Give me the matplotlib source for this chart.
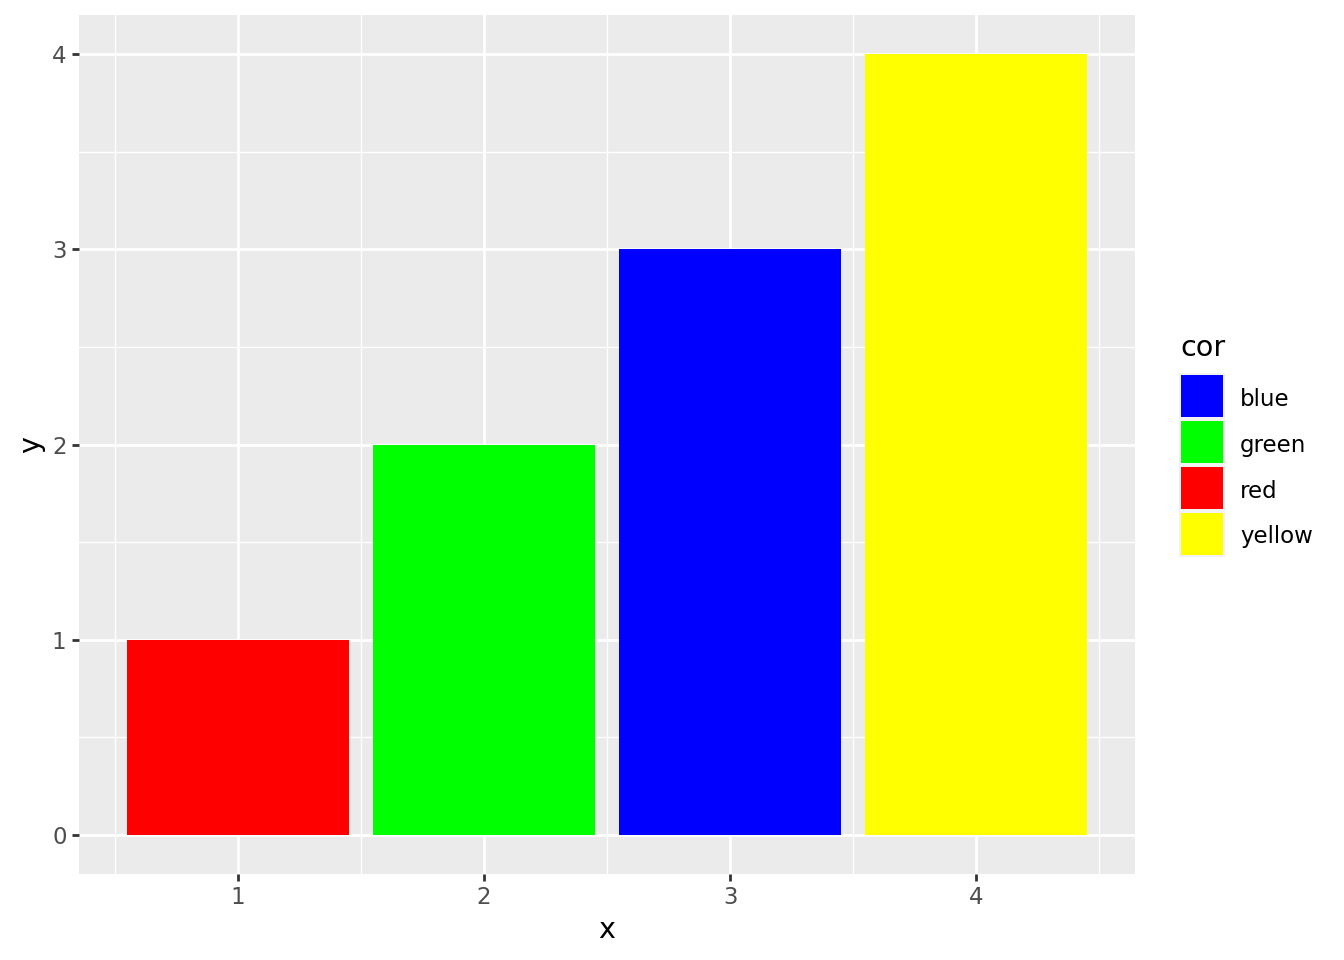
import matplotlib
matplotlib.use("Agg")
import matplotlib.pyplot as plt
from matplotlib.patches import Rectangle

x = [1, 2, 3, 4]
y = [1, 2, 3, 4]
cor = ["red", "green", "blue", "yellow"]
fill_map = {"blue": "#0000FF", "green": "#00FF00", "red": "#FF0000", "yellow": "#FFFF00"}
legend_order = sorted(set(cor))

TXT = 16.5
TITLE = 20.6

fig = plt.figure(figsize=(13.44, 9.6), dpi=100)
W, H = 1344, 960
ax = fig.add_axes([79 / W, (960 - 874) / H, (1135 - 79) / W, (874 - 15) / H])
ax.set_facecolor("#EBEBEB")
for s in ax.spines.values():
    s.set_visible(False)

ax.set_xlim(0.355, 4.645)
ax.set_ylim(-0.2, 4.2)

# grid
for v in [0.5, 1.5, 2.5, 3.5, 4.5]:
    ax.axvline(v, color="white", lw=1.0, zorder=0.5)
for v in [0.5, 1.5, 2.5, 3.5]:
    ax.axhline(v, color="white", lw=1.0, zorder=0.5)
for v in [1, 2, 3, 4]:
    ax.axvline(v, color="white", lw=2.0, zorder=0.6)
for v in [0, 1, 2, 3, 4]:
    ax.axhline(v, color="white", lw=2.0, zorder=0.6)

ax.bar(x, y, width=0.9, color=[fill_map[c] for c in cor], zorder=2)

ax.set_xticks([1, 2, 3, 4])
ax.set_yticks([0, 1, 2, 3, 4])
ax.tick_params(axis="both", colors="#333333", length=5, width=2.0, labelsize=TXT,
               labelcolor="#4D4D4D", pad=4)
ax.set_xlabel("x", fontsize=TITLE, color="black", labelpad=5)
ax.set_ylabel("y", fontsize=TITLE, color="black", labelpad=5)

# legend
fig.text(1180 / W, 1 - 348 / H, "cor", fontsize=TITLE, va="center", ha="left")
top = 373
for i, c in enumerate(legend_order):
    y0 = top + i * 46
    fig.patches.append(Rectangle((1179 / W, 1 - (y0 + 46) / H), 46 / W, 46 / H,
                                 transform=fig.transFigure, facecolor="#F2F2F2",
                                 edgecolor="none"))
    fig.patches.append(Rectangle((1181 / W, 1 - (y0 + 44) / H), 42 / W, 42 / H,
                                 transform=fig.transFigure, facecolor=fill_map[c],
                                 edgecolor="none"))
    fig.text(1240 / W, 1 - (y0 + 26) / H, c, fontsize=TXT, va="center", ha="left")

fig.savefig("out.png", dpi=100, facecolor="white")
